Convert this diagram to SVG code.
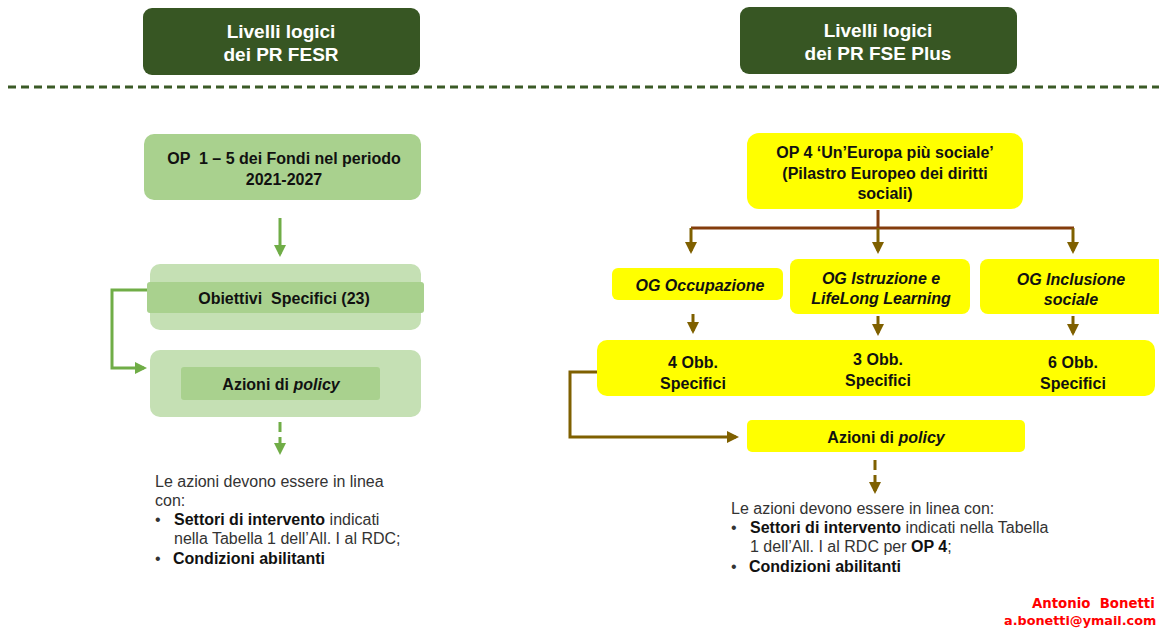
<svg xmlns="http://www.w3.org/2000/svg" width="1159" height="630" viewBox="0 0 1159 630">
<style>
text{font-family:"Liberation Sans",Arial,sans-serif}
.hdr{fill:#375623}
.ht{fill:#fff;font-size:19px;font-weight:bold;text-anchor:middle}
.b{font-size:16px;font-weight:bold;fill:#111;text-anchor:middle}
.bi{font-size:16px;font-weight:bold;font-style:italic;fill:#111;text-anchor:middle}
.g1{fill:#A9D18E}
.g2{fill:#C5E0B4}
.y{fill:#FFFF00}
.gl{stroke:#70AD47;stroke-width:3;fill:none}
.bl{stroke:#7F6000;stroke-width:3;fill:none}
.note{font-size:16px;fill:#333}
.note tspan.s{font-weight:bold;fill:#111}
.sig{font-family:"DejaVu Sans",Verdana,sans-serif;font-size:13.3px;font-weight:bold;fill:#FF0000}
</style>
<defs>
<marker id="ag" markerWidth="4" markerHeight="4" refX="3" refY="2" orient="auto" markerUnits="strokeWidth"><path d="M0,0 L4,2 L0,4 Z" fill="#70AD47"/></marker>
<marker id="ab" markerWidth="4" markerHeight="4" refX="3" refY="2" orient="auto" markerUnits="strokeWidth"><path d="M0,0 L4,2 L0,4 Z" fill="#7F6000"/></marker>
</defs>
<rect width="1159" height="630" fill="#fff"/>
<g id="hdr-fesr"><rect class="hdr" x="143" y="8" width="277" height="67" rx="9"/><text class="ht" x="281" y="38">Livelli logici</text><text class="ht" x="281" y="61">dei PR FESR</text></g>
<g id="hdr-fse"><rect class="hdr" x="740" y="7" width="277" height="67" rx="9"/><text class="ht" x="878" y="37">Livelli logici</text><text class="ht" x="878" y="60">dei PR FSE Plus</text></g>
<line id="divider" x1="8" y1="87" x2="1159" y2="87" stroke="#3B5A26" stroke-width="3" stroke-dasharray="8 5"/>

<g id="op-fesr"><rect class="g1" x="144" y="134" width="277" height="66" rx="10"/><text class="b" x="284" y="164" xml:space="preserve">OP  1 – 5 dei Fondi nel periodo</text><text class="b" x="284" y="185">2021-2027</text></g>
<g id="os-fesr"><rect class="g2" x="150" y="264" width="271" height="66" rx="10"/><rect class="g1" x="147" y="282" width="277" height="31" rx="3"/><text class="b" x="284" y="304" xml:space="preserve">Obiettivi  Specifici (23)</text></g>
<g id="az-fesr"><rect class="g2" x="150" y="350" width="271" height="67" rx="10"/><rect class="g1" x="181" y="367" width="199" height="33" rx="3"/><text class="b" x="281" y="390">Azioni di <tspan font-style="italic">policy</tspan></text></g>
<g id="note-fesr"><text class="note" x="155" y="487">Le azioni devono essere in linea</text><text class="note" x="155" y="506">con:</text><text class="note" x="155" y="525">•<tspan class="s" x="174">Settori di intervento</tspan> indicati</text><text class="note" x="174" y="544">nella Tabella 1 dell’All. I al RDC;</text><text class="note" x="155" y="564">•<tspan class="s" x="173">Condizioni abilitanti</tspan></text></g>

<g id="op-fse"><rect class="y" x="747" y="133" width="276" height="76" rx="12"/><text class="b" x="885" y="158">OP 4 ‘Un’Europa più sociale’</text><text class="b" x="885" y="179">(Pilastro Europeo dei diritti</text><text class="b" x="885" y="199">sociali)</text></g>
<g id="og-occ"><rect class="y" x="612" y="268" width="171" height="32" rx="6"/><text class="bi" x="700" y="291">OG Occupazione</text></g>
<g id="og-istr"><rect class="y" x="790" y="259" width="180" height="55" rx="8"/><text class="bi" x="881" y="284">OG Istruzione e</text><text class="bi" x="881" y="304">LifeLong Learning</text></g>
<g id="og-incl"><rect class="y" x="980" y="259" width="185" height="55" rx="8"/><text class="bi" x="1071" y="285">OG Inclusione</text><text class="bi" x="1071" y="305">sociale</text></g>
<g id="obb"><rect class="y" x="597" y="340" width="558" height="56" rx="10"/><text class="b" x="693" y="368">4 Obb.</text><text class="b" x="693" y="389">Specifici</text><text class="b" x="878" y="365">3 Obb.</text><text class="b" x="878" y="386">Specifici</text><text class="b" x="1073" y="368">6 Obb.</text><text class="b" x="1073" y="389">Specifici</text></g>
<g id="az-fse"><rect class="y" x="747" y="420" width="278" height="32" rx="5"/><text class="b" x="886" y="443">Azioni di <tspan font-style="italic">policy</tspan></text></g>
<g id="note-fse"><text class="note" x="731" y="514">Le azioni devono essere in linea con:</text><text class="note" x="731" y="533">•<tspan class="s" x="750">Settori di intervento</tspan> indicati nella Tabella</text><text class="note" x="750" y="552">1 dell’All. I al RDC per <tspan class="s">OP 4</tspan>;</text><text class="note" x="731" y="572">•<tspan class="s" x="749">Condizioni abilitanti</tspan></text></g>

<g id="connectors">
<line class="gl" x1="280" y1="218" x2="280" y2="254" marker-end="url(#ag)"/>
<polyline class="gl" points="147,290 112,290 112,368 144,368" marker-end="url(#ag)"/>
<line class="gl" x1="280" y1="422" x2="280" y2="452" stroke-dasharray="10 5" marker-end="url(#ag)"/>
<line x1="878" y1="210" x2="878" y2="228" stroke="#843C0C" stroke-width="3"/>
<line x1="691" y1="228" x2="1074" y2="228" stroke="#843C0C" stroke-width="3"/>
<line class="bl" x1="691" y1="228" x2="691" y2="251" marker-end="url(#ab)"/>
<line class="bl" x1="878" y1="228" x2="878" y2="251" marker-end="url(#ab)"/>
<line class="bl" x1="1073" y1="228" x2="1073" y2="251" marker-end="url(#ab)"/>
<line class="bl" x1="693" y1="314" x2="693" y2="331" marker-end="url(#ab)"/>
<line class="bl" x1="878" y1="316" x2="878" y2="333" marker-end="url(#ab)"/>
<line class="bl" x1="1073" y1="316" x2="1073" y2="333" marker-end="url(#ab)"/>
<polyline class="bl" points="597,372 570,372 570,437 736,437" marker-end="url(#ab)"/>
<line class="bl" x1="875" y1="460" x2="875" y2="491" stroke-dasharray="10 5" marker-end="url(#ab)"/>
</g>
<g id="signature"><text class="sig" x="1032" y="608" xml:space="preserve">Antonio  Bonetti</text><text class="sig" x="1004" y="625" style="font-size:12.8px">a.bonetti@ymail.com</text></g>
</svg>
